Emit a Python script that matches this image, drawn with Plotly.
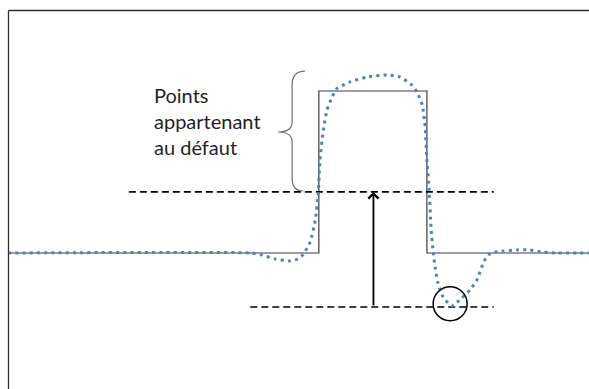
import plotly.graph_objects as go

# ── Data ──────────────────────────────────────────────────────────────────────
# smoothed (filtered) signal, dotted blue
signal_t = [0.0, 41.7, 43.7, 46.0, 48.5, 49.9, 50.8, 52.0, 52.9, 53.4, 53.7,
            54.2, 54.9, 55.8, 56.6, 58.9, 61.8, 65.2, 67.5, 69.5, 70.4, 71.3,
            71.8, 72.1, 72.5, 72.8, 73.2, 73.5, 74.0, 74.9, 76.4, 78.1, 79.5,
            80.7, 81.8, 82.6, 83.8, 85.2, 87.6, 89.8, 92.1, 94.5, 100.0]
signal_y = [0.0, 0.0, -0.012, -0.037, -0.049, -0.037, -0.009, 0.068, 0.204,
            0.370, 0.574, 0.741, 0.883, 0.963, 1.015, 1.056, 1.086, 1.099,
            1.086, 1.037, 0.994, 0.914, 0.778, 0.574, 0.389, 0.160, 0.0,
            -0.086, -0.185, -0.272, -0.327, -0.278, -0.228, -0.167, -0.062,
            -0.012, 0.006, 0.012, 0.019, 0.019, 0.006, 0.0, 0.0]

# ideal defect (rectangular pulse)
pulse_t = [0.0, 53.5, 53.5, 72.1, 72.1, 100.0]
pulse_y = [0.0, 0.0, 1.0, 1.0, 0.0, 0.0]

# threshold levels
upper_level = 0.377
upper_span = [20.8, 83.6]
lower_level = -0.333
lower_span = [41.7, 83.6]
arrow_t = 62.9

# circled minimum
circle_t, circle_y = 76.1, -0.313

label = "Points<br>appartenant<br>au défaut"

# ── Figure ────────────────────────────────────────────────────────────────────
W, H = 589, 389
X_RANGE = [-1.377, 100.0]
Y_RANGE = [-0.8395, 1.5617]
px_x = W / (X_RANGE[1] - X_RANGE[0])
px_y = H / (Y_RANGE[1] - Y_RANGE[0])

fig = go.Figure()

fig.add_trace(go.Scatter(
    x=pulse_t, y=pulse_y,
    mode="lines",
    line=dict(color="#3c3c3c", width=1.2),
    hoverinfo="skip",
))
fig.add_trace(go.Scatter(
    x=upper_span, y=[upper_level, upper_level],
    mode="lines",
    line=dict(color="black", width=1.6, dash="7px,4px"),
    hoverinfo="skip",
))
fig.add_trace(go.Scatter(
    x=lower_span, y=[lower_level, lower_level],
    mode="lines",
    line=dict(color="black", width=1.6, dash="7px,4px"),
    hoverinfo="skip",
))
fig.add_trace(go.Scatter(
    x=signal_t, y=signal_y,
    mode="lines",
    line=dict(color="#4f81bd", width=3, dash="3px,4.2px", shape="spline", smoothing=0.5),
    hoverinfo="skip",
))

# arrow between the two levels
fig.add_annotation(
    x=arrow_t, y=upper_level, ax=arrow_t, ay=lower_level,
    xref="x", yref="y", axref="x", ayref="y",
    text="", showarrow=True,
    arrowhead=4, arrowsize=1.1, arrowwidth=1.8, arrowcolor="black",
)

# circle round the minimum
r = 17
fig.add_shape(
    type="circle", xref="x", yref="y",
    x0=circle_t - r / px_x, x1=circle_t + r / px_x,
    y0=circle_y - r / px_y, y1=circle_y + r / px_y,
    line=dict(color="black", width=1.5),
)

# curly brace
brace = ("M 51.1,1.123 Q 48.9,1.123 48.9,1.037 L 48.9,0.809 "
         "Q 48.9,0.747 46.5,0.747 Q 48.9,0.747 48.9,0.685 "
         "L 48.9,0.463 Q 48.9,0.383 50.8,0.383")
fig.add_shape(type="path", xref="x", yref="y", path=brace,
              line=dict(color="#6e6e6e", width=1.2))

fig.add_annotation(
    x=24.8, y=0.815, xref="x", yref="y",
    text=label, showarrow=False,
    xanchor="left", yanchor="middle", align="left",
    font=dict(family="Lato, Carlito, sans-serif", size=20, color="#1f1f1f"),
)

# frame (top and left edges visible)
fig.add_shape(type="line", xref="paper", yref="paper",
              x0=8.5 / W, x1=1.01, y0=1 - 10.5 / H, y1=1 - 10.5 / H,
              line=dict(color="#303030", width=1.3))
fig.add_shape(type="line", xref="paper", yref="paper",
              x0=8.5 / W, x1=8.5 / W, y0=-0.01, y1=1 - 10.5 / H,
              line=dict(color="#303030", width=1.3))

fig.update_layout(
    width=W, height=H,
    margin=dict(l=0, r=0, t=0, b=0),
    paper_bgcolor="white",
    plot_bgcolor="white",
    showlegend=False,
    xaxis=dict(range=X_RANGE, visible=False, fixedrange=True),
    yaxis=dict(range=Y_RANGE, visible=False, fixedrange=True),
)

fig.write_html("out.html", config={"displayModeBar": False},
               post_script="document.body.style.margin='0';")
